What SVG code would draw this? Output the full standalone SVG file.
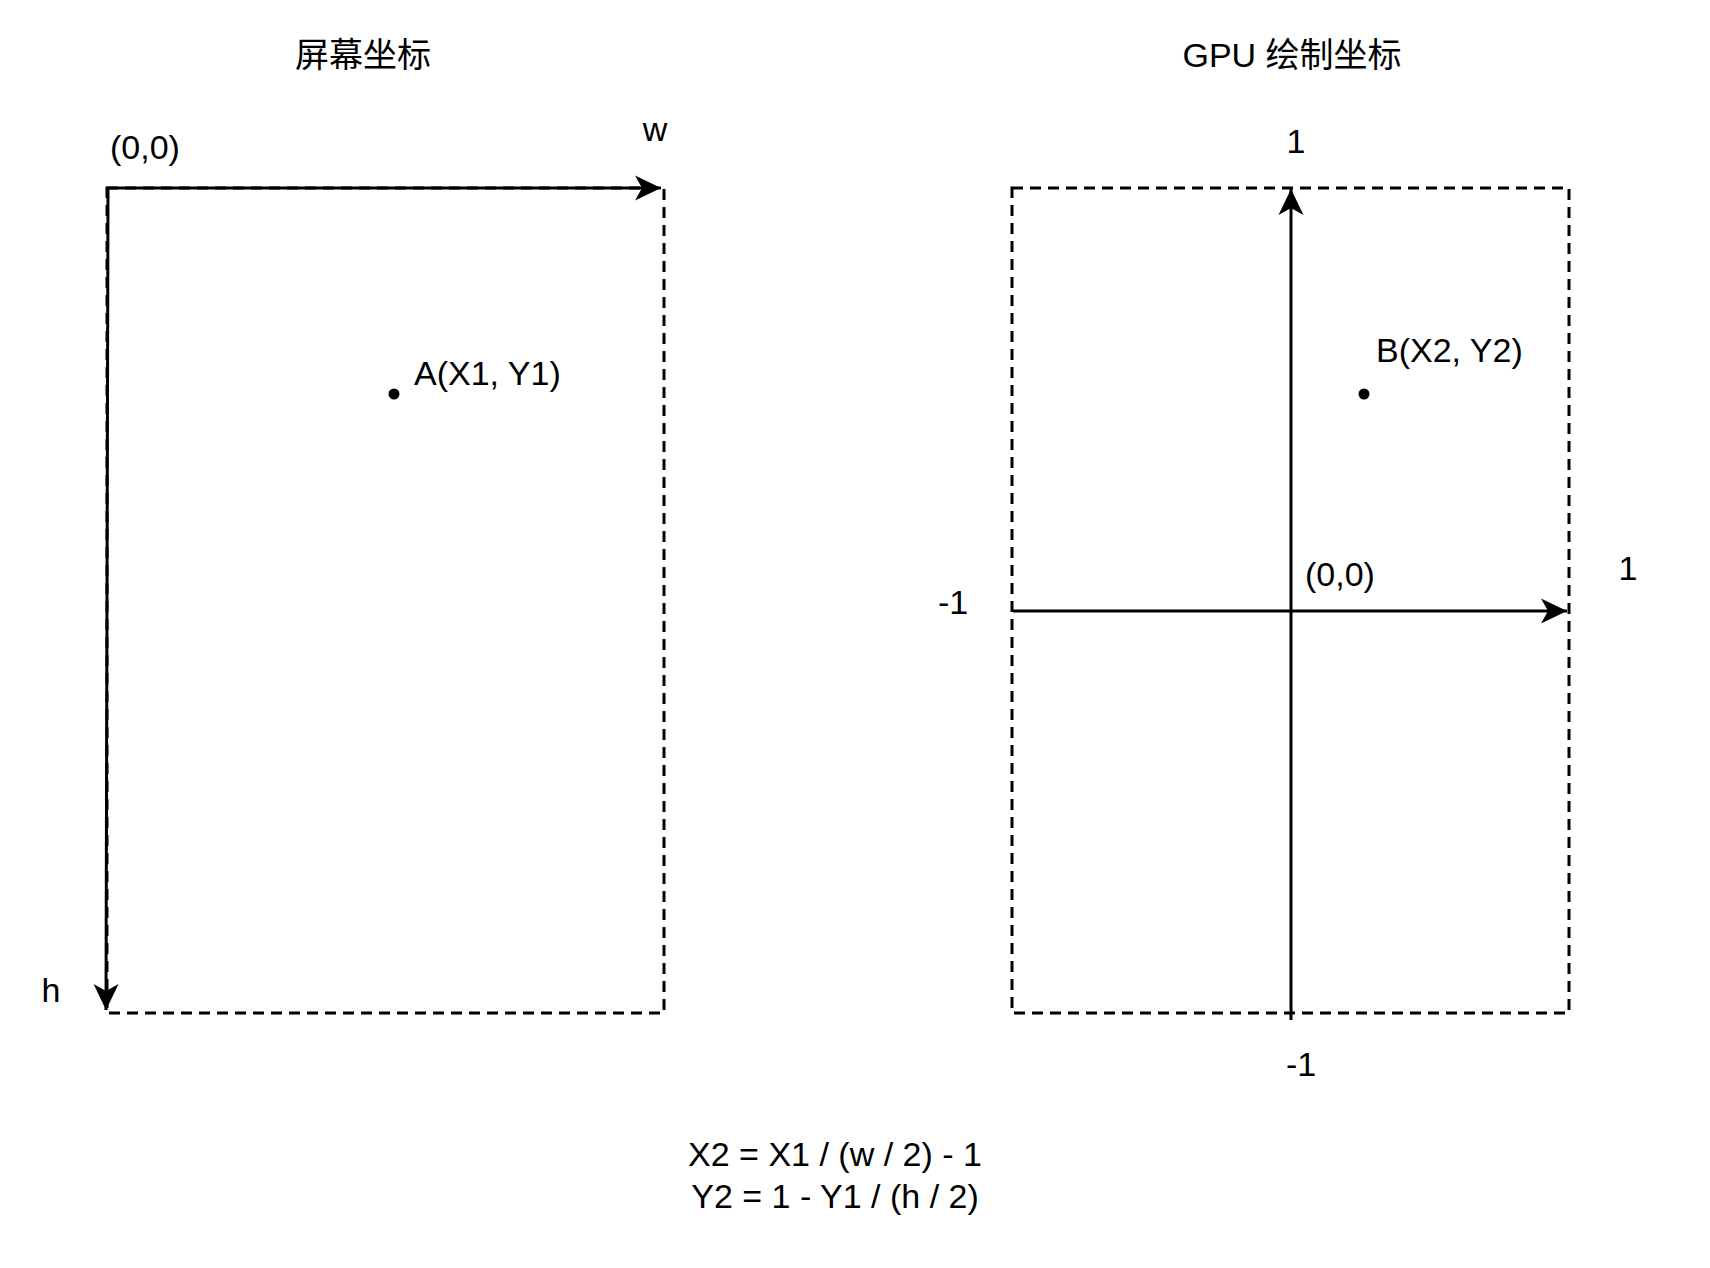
<svg xmlns="http://www.w3.org/2000/svg" width="1710" height="1268" viewBox="0 0 1710 1268">
  <style>
    .t { font-family: "Liberation Sans", "Noto Sans CJK SC", sans-serif; font-size: 34px; fill: #000; }
    .frame { fill: none; stroke: #000; stroke-width: 3; stroke-dasharray: 11 7; }
    .axis { fill: none; stroke: #000; stroke-width: 3; }
    .dot { fill: #000; }
  </style>
  <defs>
    <marker id="arr" markerUnits="userSpaceOnUse" viewBox="-2 -14 30 28" markerWidth="30" markerHeight="28" refX="26" refY="0" orient="auto">
      <path d="M0,-12.5 L26,0 L0,12.5 L7,0 Z" fill="#000"/>
    </marker>
  </defs>
  <rect width="1710" height="1268" fill="#fff"/>

  <g id="title-screen"><text class="t" x="363" y="67" text-anchor="middle">屏幕坐标</text></g>
  <g id="title-gpu"><text class="t" x="1292" y="67" text-anchor="middle">GPU 绘制坐标</text></g>

  <g id="screen-frame"><rect class="frame" x="107" y="188" width="557" height="825"/></g>
  <g id="gpu-frame"><rect class="frame" x="1012" y="188" width="557" height="825"/></g>

  <g id="connectors">
    <line class="axis" x1="107" y1="188" x2="661" y2="188" marker-end="url(#arr)"/>
    <line class="axis" x1="108" y1="188" x2="106" y2="1010" marker-end="url(#arr)"/>
    <line class="axis" x1="1291" y1="1020" x2="1291" y2="189" marker-end="url(#arr)"/>
    <line class="axis" x1="1013" y1="611" x2="1567" y2="611" marker-end="url(#arr)"/>
  </g>

  <g id="origin-screen"><text class="t" x="110" y="159">(0,0)</text></g>
  <g id="label-w"><text class="t" x="655" y="141" text-anchor="middle">w</text></g>
  <g id="label-h"><text class="t" x="51" y="1002" text-anchor="middle">h</text></g>
  <g id="point-a">
    <circle class="dot" cx="394" cy="394" r="5.5"/>
    <text class="t" x="414" y="385">A(X1, Y1)</text>
  </g>

  <g id="label-top-1"><text class="t" x="1296" y="153" text-anchor="middle">1</text></g>
  <g id="label-left-m1"><text class="t" x="953" y="614" text-anchor="middle">-1</text></g>
  <g id="label-right-1"><text class="t" x="1628" y="580" text-anchor="middle">1</text></g>
  <g id="label-bottom-m1"><text class="t" x="1301" y="1076" text-anchor="middle">-1</text></g>
  <g id="origin-gpu"><text class="t" x="1305" y="586">(0,0)</text></g>
  <g id="point-b">
    <circle class="dot" cx="1364" cy="394" r="5.5"/>
    <text class="t" x="1376" y="362">B(X2, Y2)</text>
  </g>

  <g id="formula">
    <text class="t" x="835" y="1166" text-anchor="middle">X2 = X1 / (w / 2) - 1</text>
    <text class="t" x="835" y="1208" text-anchor="middle">Y2 = 1 - Y1 / (h / 2)</text>
  </g>
</svg>
